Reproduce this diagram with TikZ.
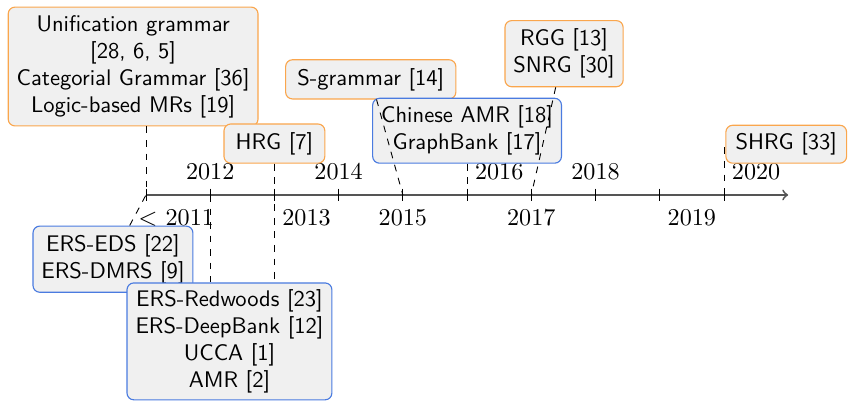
\documentclass[tikz,border=0pt]{standalone}
\usetikzlibrary{calc}
\definecolor{boxfill}{RGB}{240,240,240}
\definecolor{orangeline}{RGB}{250,166,77}
\definecolor{blueline}{RGB}{74,123,224}
\definecolor{axisgray}{RGB}{85,85,85}
\tikzset{
  evbox/.style={draw, rounded corners=3pt, fill=boxfill, align=center,
    font=\sffamily, inner sep=2pt, line width=0.5pt},
  grammarbox/.style={evbox, draw=orangeline},
  bankbox/.style={evbox, draw=blueline},
  conn/.style={dashed, black, line width=0.4pt},
  yearlab/.style={inner sep=0pt, font=\fontsize{10.7}{12}\selectfont},
  tickline/.style={black, line width=0.4pt}
}
\begin{document}
\begin{tikzpicture}
\useasboundingbox (-2.273,-3.208) rectangle (10.947,3.036);
% axis
\draw[->, axisgray, line width=0.8pt] (0,0) -- (10,0);
\foreach \i in {0,...,9} {
  \coordinate (t\i) at (\i,0);
  \draw[tickline] (\i,0.1) -- (\i,-0.1);
}
% year labels
\node[yearlab] (y0) at (0.47,-0.36) {$<$ 2011};
\node[yearlab] (y1) at (1.0,0.36) {2012};
\node[yearlab] (y2) at (2.5,-0.36) {2013};
\node[yearlab] (y3) at (3.0,0.36) {2014};
\node[yearlab] (y4) at (4.0,-0.36) {2015};
\node[yearlab] (y5) at (5.5,0.36) {2016};
\node[yearlab] (y6) at (6.0,-0.36) {2017};
\node[yearlab] (y7) at (7.0,0.36) {2018};
\node[yearlab] (y8) at (8.5,-0.36) {2019};
\node[yearlab] (y9) at (9.5,0.36) {2020};
% boxes
\node[grammarbox, minimum width=3.89cm, minimum height=1.85cm] (unif) at (-0.20,2.00)
  {Unification grammar\\{[28, 6, 5]}\\Categorial Grammar [36]\\Logic-based MRs [19]};
\node[grammarbox, minimum width=1.57cm, minimum height=0.61cm] (hrg) at (2.0,0.80) {HRG [7]};
\node[grammarbox, minimum width=2.65cm, minimum height=0.61cm] (sg) at (3.50,1.80) {S-grammar [14]};
\node[bankbox, minimum width=2.94cm, minimum height=1.01cm] (cn) at (5.0,1.00)
  {Chinese AMR [18]\\GraphBank [17]};
\node[grammarbox, minimum width=1.84cm, minimum height=1.03cm] (rgg) at (6.51,2.20)
  {RGG [13]\\SNRG [30]};
\node[grammarbox, minimum width=1.88cm, minimum height=0.59cm] (shrg) at (9.97,0.79) {SHRG [33]};
\node[bankbox, minimum width=2.49cm, minimum height=1.03cm] (eds) at (-0.514,-1.0)
  {ERS-EDS [22]\\ERS-DMRS [9]};
\node[bankbox, minimum width=3.19cm, minimum height=1.82cm] (red) at (1.30,-2.28)
  {ERS-Redwoods [23]\\ERS-DeepBank [12]\\UCCA [1]\\AMR [2]};
% connectors
\draw[conn] (unif.south -| t0) -- (t0);
\draw[conn] ([xshift=0.26cm]eds.north) -- (t0);
\draw[conn] (t1) -- (t1 |- red.north);
\draw[conn] (hrg.south) -- (hrg.south |- red.north);
\draw[conn] ([xshift=0.09cm]sg.south) -- (t4);
\draw[conn] (cn.south) -- (t5);
\draw[conn] ([xshift=-0.13cm]rgg.south) -- (t6);
\draw[conn] ([yshift=-0.05cm]t9 |- shrg.west) -- (t9);
\end{tikzpicture}
\end{document}
